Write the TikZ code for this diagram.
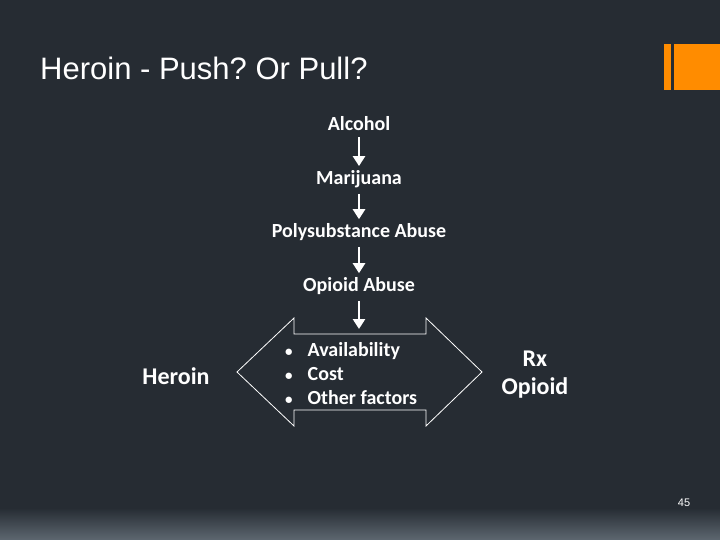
\documentclass[tikz,border=0pt]{standalone}
\usepackage{fontspec}
\setmainfont{Carlito}
\newfontfamily\titlefont{Liberation Sans}
\usetikzlibrary{arrows.meta}
\definecolor{bg}{HTML}{262C33}
\definecolor{bgb}{HTML}{5D6770}
\definecolor{orng}{HTML}{FF8C00}
\tikzset{
  lbl/.style={text=white, font=\bfseries\fontsize{20}{24}\selectfont, inner sep=0pt, anchor=center},
  big/.style={text=white, font=\bfseries\fontsize{24}{28}\selectfont, inner sep=0pt, anchor=center, align=center},
  flow/.style={draw=white, line width=2.6pt, -{Triangle[width=12pt,length=10pt]}, shorten <=6pt, shorten >=4pt},
  outline/.style={draw=white, line width=0.8pt, fill=bg},
}
\begin{document}
\frenchspacing
\begin{tikzpicture}[x=1pt,y=-1pt]
\useasboundingbox (0,0) rectangle (720,540);
\fill[bg] (0,0) rectangle (720,540);
\shade[top color=bg, bottom color=bgb] (0,508) rectangle (720,540);
% orange bars
\fill[orng] (664,44) rectangle (671,90);
\fill[orng] (674,44) rectangle (720,90);
% title
\node[anchor=base west, inner sep=0pt, text=white, font=\titlefont\fontsize{31}{36}\selectfont] (title) at (40,80) {Heroin - Push? Or Pull?};
% chain
\node[lbl] (alc) at (359,124) {Alcohol};
\node[lbl] (mar) at (359,179) {Marijuana};
\node[lbl] (poly) at (359,232) {Polysubstance Abuse};
\node[lbl] (opi) at (359,286) {Opioid Abuse};
% double arrow shape
\draw[outline] (237,372) -- (294,318) -- (294,334) -- (426,334) -- (426,318) -- (482,372)
  -- (426,426) -- (426,410) -- (294,410) -- (294,426) -- cycle;
\coordinate (shaft) at (359,334);
\draw[flow] (alc) -- (mar);
\draw[flow] (mar) -- (poly);
\draw[flow] (poly) -- (opi);
\draw[flow, shorten >=5pt] (opi) -- (shaft);
% bullets
\node[anchor=west, inner sep=0pt, text=white, font=\bfseries\fontsize{20}{24}\selectfont, align=left] (list) at (285,374)
  {{\fontsize{15}{15}\selectfont\textbullet}\hspace{15pt}Availability\\ {\fontsize{15}{15}\selectfont\textbullet}\hspace{15pt}Cost\\ {\fontsize{15}{15}\selectfont\textbullet}\hspace{15pt}Other factors};
\node[big] (her) at (176,376) {Heroin};
\node[big] (rx) at (535,375) {Rx\\Opioid};
\node[anchor=center, inner sep=0pt, text=white, font=\titlefont\fontsize{11}{13}\selectfont] (pg) at (684,503) {45};
\end{tikzpicture}
\end{document}
